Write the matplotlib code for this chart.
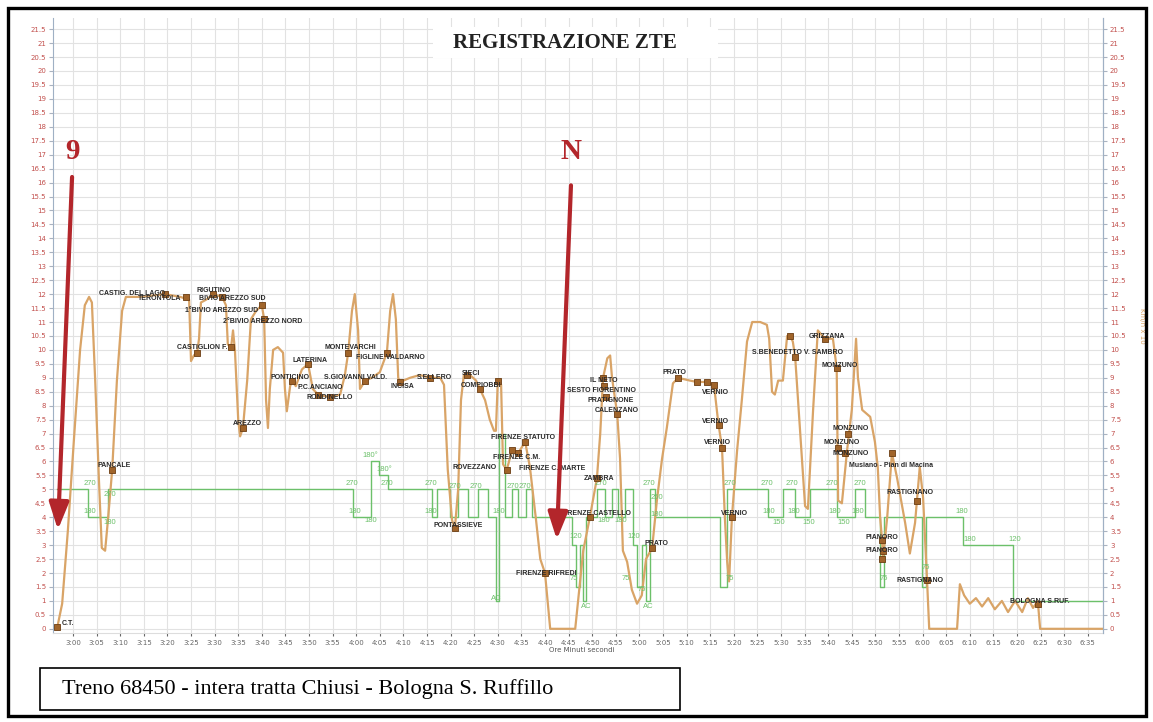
import matplotlib.pyplot as plt
from matplotlib.patches import Rectangle
from matplotlib.ticker import MultipleLocator, FuncFormatter

# time in minutes after midnight, speed in km/h / 10
SPEED_T = [176.6, 177.7, 178.9, 180.2, 181.5, 182.5, 183.4, 184.0, 184.7, 185.5,
           186.1, 186.8, 187.4, 188.3, 189.3, 190.4, 191.2, 194.2, 199.5, 202.7,
           204.6, 205.0, 205.6, 206.3, 206.7, 207.1, 208.2, 209.7, 211.6, 212.4,
           212.8, 213.5, 213.9, 214.3, 215.0, 215.4, 216.0, 216.9, 217.7, 218.8,
           220.0, 220.5, 220.9, 221.3, 221.7, 222.4, 223.4, 224.5, 224.9, 225.3,
           226.0, 226.4, 227.2, 228.5, 229.8, 230.8, 231.9, 234.4, 236.6, 237.6,
           238.3, 239.1, 239.7, 240.4, 240.8, 241.9, 243.3, 245.0, 246.5, 247.2,
           247.8, 248.4, 248.9, 249.3, 251.4, 253.5, 255.6, 257.8, 258.6, 259.4,
           260.3, 260.9, 261.6, 262.2, 262.8, 264.1, 265.4, 266.2, 267.3, 268.3,
           269.2, 269.6, 270.0, 270.7, 271.1, 271.9, 273.0, 274.3, 275.8, 276.8,
           278.1, 279.0, 280.0, 281.1, 286.4, 287.0, 288.1, 289.5, 291.0, 291.7,
           292.3, 293.2, 293.8, 294.2, 295.3, 295.9, 296.5, 297.4, 298.4, 299.5,
           300.5, 301.4, 302.7, 303.7, 304.8, 305.8, 307.1, 308.2, 310.7, 312.2,
           314.3, 315.8, 316.7, 317.5, 318.1, 318.6, 319.0, 319.6, 320.7, 321.7,
           322.8, 323.9, 325.6, 327.0, 327.5, 328.1, 328.7, 329.4, 330.4, 331.3,
           331.9, 332.5, 333.0, 334.0, 335.1, 335.7, 336.8, 337.8, 339.3, 341.0,
           341.8, 342.1, 342.9, 344.0, 345.0, 345.9, 346.3, 347.2, 348.9, 349.9,
           350.5, 351.0, 351.4, 351.6, 352.5, 353.5, 354.6, 356.3, 357.3, 358.4,
           359.4, 360.1, 360.9, 361.4, 367.3, 367.9, 368.8, 370.0, 371.3, 372.6,
           373.9, 375.3, 376.8, 378.1, 379.6, 381.1, 382.3, 383.4, 384.4, 384.9,
           398.0]
SPEED_V = [0.0, 0.9, 3.5, 6.8, 10.0, 11.6, 11.9, 11.7, 8.9, 5.3,
           2.9, 2.8, 3.9, 5.7, 8.9, 11.4, 11.9, 11.9, 12.0, 11.9,
           11.8, 9.6, 9.8, 9.9, 10.4, 11.7, 11.8, 12.0, 11.9, 11.6,
           10.2, 10.1, 10.7, 10.0, 7.5, 6.9, 7.2, 8.9, 11.1, 11.4,
           11.6, 11.1, 8.2, 7.2, 8.6, 10.0, 10.1, 9.9, 8.6, 7.8,
           8.7, 8.9, 8.7, 9.3, 9.5, 8.6, 8.4, 8.3, 8.4, 9.1,
           9.9, 11.4, 12.0, 10.7, 8.6, 8.9, 9.0, 9.2, 9.9, 11.4,
           12.0, 11.1, 9.0, 8.85, 9.0, 9.1, 9.0, 9.0, 8.75, 5.7,
           3.9, 3.6, 5.0, 8.2, 9.1, 9.1, 8.9, 8.6, 8.2, 7.5,
           7.1, 7.1, 8.9, 8.75, 5.9, 5.7, 6.4, 6.3, 6.7, 5.8,
           3.9, 2.5, 2.0, 0.0, 0.0, 1.0, 2.8, 4.0, 5.4, 7.0,
           9.0, 9.7, 9.8, 9.0, 7.7, 6.1, 2.8, 2.4, 1.4, 0.9,
           1.2, 2.5, 2.9, 4.6, 6.1, 7.2, 8.8, 9.0, 8.9, 8.85,
           8.85, 8.75, 7.4, 6.5, 4.0, 2.4, 1.7, 4.0, 6.4, 8.2,
           10.3, 11.0, 11.0, 10.9, 10.4, 8.5, 8.4, 8.9, 8.9, 10.5,
           10.5, 10.3, 9.75, 7.2, 4.4, 4.3, 7.85, 10.7, 10.4, 10.4,
           9.35, 4.6, 4.5, 6.4, 7.85, 10.4, 9.0, 7.85, 7.6, 6.7,
           5.8, 4.0, 3.2, 2.5, 4.0, 6.3, 5.4, 3.8, 2.7, 3.8,
           5.8, 4.7, 1.9, 0.0, 0.0, 1.6, 1.2, 0.9, 1.1, 0.8,
           1.1, 0.7, 1.0, 0.6, 1.0, 0.6, 1.1, 0.75, 1.0, 0.0,
           0.0]

# speed limit (step line)
LIMIT_T = [176.6, 183.2, 187.4, 239.3, 243.1, 244.8, 246.7, 256.1, 257.1, 259.9,
           261.6, 263.7, 265.8, 267.9, 269.6, 270.3, 271.5, 273.0, 274.3, 276.0,
           277.2, 285.7, 286.6, 287.4, 288.1, 288.7, 291.0, 292.7, 294.2, 295.5,
           297.0, 298.6, 299.5, 300.5, 301.4, 302.2, 303.3, 317.1, 318.6, 327.3,
           330.5, 333.0, 336.1, 341.9, 345.7, 347.8, 351.0, 351.8, 359.9, 360.7,
           368.6, 379.2, 398.0]
LIMIT_V = [5.0, 4.0, 5.0, 4.0, 6.0, 5.5, 5.0, 4.0, 5.0, 4.0,
           5.0, 4.0, 5.0, 4.0, 1.0, 7.0, 4.0, 5.0, 4.0, 5.0,
           4.0, 3.0, 1.5, 3.0, 1.0, 4.0, 5.0, 4.0, 5.0, 4.0,
           5.0, 3.0, 1.5, 3.0, 1.0, 5.0, 4.0, 1.5, 5.0, 4.0,
           5.0, 4.0, 5.0, 4.0, 5.0, 4.0, 1.5, 4.0, 1.5, 4.0,
           3.0, 1.0, 1.0]

LIMIT_LABEL_T = [183.6, 183.6, 187.8, 187.8, 239.0, 239.6, 243.1, 245.9, 246.5, 243.1,
                 255.8, 255.8, 260.9, 265.4, 269.6, 273.2, 275.8, 270.3,
                 286.6, 286.2, 288.7, 291.9, 292.4, 296.1, 298.8, 297.2, 301.8, 300.5,
                 302.1, 303.6, 303.6, 319.1, 319.1, 327.0, 332.3, 340.8, 346.7,
                 327.4, 329.6, 332.7, 335.9, 341.4, 343.3, 346.3, 351.8, 360.7,
                 368.2, 370.0, 379.6]
LIMIT_LABEL_V = [5.2, 4.2, 4.8, 3.8, 5.2, 4.2, 6.2, 5.7, 5.2, 3.9,
                 5.2, 4.2, 5.1, 5.1, 1.1, 5.1, 5.1, 4.2,
                 3.3, 1.8, 0.8, 5.2, 3.9, 3.9, 3.3, 1.8, 0.8, 1.4,
                 5.2, 4.7, 4.1, 1.8, 5.2, 5.2, 5.2, 5.2, 5.2,
                 4.2, 3.8, 4.2, 3.8, 4.2, 3.8, 4.2, 1.8, 2.2,
                 4.2, 3.2, 3.2]
LIMIT_LABELS = ["270", "180", "270", "180", "270", "180", "180°", "180°", "270", "180",
                "270", "180", "270", "270", "AC", "270", "270", "180",
                "120", "75", "AC", "270", "180", "180", "120", "75", "AC", "75",
                "270", "250", "180", "75", "270", "270", "270", "270", "270",
                "180", "150", "180", "150", "180", "150", "180", "75", "75",
                "180", "180", "120"]

STATION_T = [176.6, 188.3, 199.5, 203.9, 211.6, 209.7, 220.0, 220.5, 206.3, 213.5,
             216.0, 226.4, 229.8, 231.9, 234.4, 238.3, 241.9, 246.5, 249.3, 255.6,
             260.9, 263.5, 266.2, 270.0, 275.8, 274.3, 271.9, 273.0, 280.0, 289.5,
             291.0, 292.3, 292.6, 293.0, 295.3, 302.7, 308.2, 312.2, 314.3, 315.8,
             316.9, 317.5, 319.6, 331.9, 333.0, 339.3, 341.8, 344.2, 342.1, 343.6,
             353.5, 358.9, 351.4, 351.6, 351.5, 360.9, 384.4]
STATION_V = [0.05, 5.7, 12.0, 11.9, 11.9, 12.0, 11.6, 11.1, 9.9, 10.1,
             7.2, 8.9, 9.5, 8.4, 8.3, 9.9, 8.9, 9.9, 8.85, 9.0,
             3.6, 9.1, 8.6, 8.9, 6.7, 6.3, 5.7, 6.4, 2.0, 4.0,
             5.4, 9.0, 8.7, 8.3, 7.7, 2.9, 9.0, 8.85, 8.85, 8.75,
             7.3, 6.5, 4.0, 10.5, 9.75, 10.4, 9.35, 7.0, 6.5, 6.3,
             6.3, 4.6, 3.2, 2.8, 2.5, 1.75, 0.9]
STATION_NAMES = ["C.T.", "PANCALE", "CASTIG. DEL LAGO", "TERONTOLA", "BIVIO AREZZO SUD",
                 "RIGUTINO", "1°BIVIO AREZZO SUD", "2°BIVIO AREZZO NORD", "CASTIGLION F.", "",
                 "AREZZO", "PONTICINO", "LATERINA", "P.C.ANCIANO", "RONDINELLO",
                 "MONTEVARCHI", "S.GIOVANNI VALD.", "FIGLINE VALDARNO", "INCISA", "S.ELLERO",
                 "PONTASSIEVE", "SIECI", "COMPIOBBI", "", "FIRENZE STATUTO",
                 "FIRENZE C.M.", "ROVEZZANO", "FIRENZE C. MARTE", "FIRENZE RIFREDI", "FIRENZE CASTELLO",
                 "ZAMBRA", "IL NETO", "SESTO FIORENTINO", "PRATIGNONE", "CALENZANO",
                 "PRATO", "PRATO", "", "", "VERNIO",
                 "VERNIO", "VERNIO", "VERNIO", "", "S.BENEDETTO V. SAMBRO",
                 "GRIZZANA", "MONZUNO", "MONZUNO", "MONZUNO", "MONZUNO",
                 "Musiano - Pian di Macina", "RASTIGNANO", "PIANORO", "PIANORO", "",
                 "RASTIGNANO", "BOLOGNA S.RUF."]
# label offsets in pixels (dx right, dy up) from the marker
LABEL_DX = [5, 2, -33, -26, 10, 0, -40, -2, 5, 0,
            4, -2, 2, 2, 0, 2, -10, 3, 2, 5,
            3, 4, 1, 0, -2, -1, -32, 40, 1, 6,
            2, 1, -3, 4, 0, 4, -4, 0, 0, 1,
            -4, -5, 3, 0, 2, 2, 3, 3, 4, 5,
            -1, -7, 0, -1, 0, -7, 2]
LABEL_DY = [4, 4, 1, -2, -2, 4, -5, -2, 5, 0,
            4, 3, 3, 7, 0, 5, 3, -5, -5, 0,
            3, 2, 3, 0, 4, -4, 2, -18, 0, 4,
            0, -3, -4, -3, 4, 4, 5, 0, 0, -8,
            4, 5, 4, 0, 4, 2, 3, 5, 5, 0,
            -12, 8, 2, 0, 0, 0, 2]

TICK_MIN = list(range(180, 396, 5))


def clock(m, pos=None):
    return "{}:{:02d}".format(int(m) // 60, int(m) % 60)


W, H = 1153, 722
fig = plt.figure(figsize=(W / 100, H / 100), dpi=100)
fig.patch.set_facecolor("white")
ax = fig.add_axes([53 / W, (H - 633) / H, 1050 / W, 615 / H])

orange = "#d9a467"
green = "#6cc06a"
red_tick = "#c2504d"

ax.plot(SPEED_T, SPEED_V, color=orange, lw=1.6, zorder=3)
ax.plot(LIMIT_T, LIMIT_V, color=green, lw=1.0, drawstyle="steps-post", zorder=2)

for t, v, s in zip(LIMIT_LABEL_T, LIMIT_LABEL_V, LIMIT_LABELS):
    ax.text(t, v, s, color=green, fontsize=5.5, ha="center", va="center",
            family="Liberation Sans", zorder=4)

ax.scatter(STATION_T, STATION_V, marker="s", s=14, color="#a0642a",
           edgecolors="#6b3d12", linewidths=0.6, zorder=5)
for t, v, name, dx, dy in zip(STATION_T, STATION_V, STATION_NAMES, LABEL_DX, LABEL_DY):
    if not name:
        continue
    ha = "left" if name == "C.T." else "center"
    ax.annotate(name, (t, v), xytext=(dx, dy), textcoords="offset pixels",
                fontsize=5, fontweight="bold", color="#2a2a2a", ha=ha, va="center",
                family="Liberation Sans", zorder=6)

# red arrows
arrow_red = "#b3262b"
for tail, tip, lab in [((179.8, 16.2), (176.8, 3.55), "9"),
                       ((285.5, 15.9), (282.5, 3.2), "N")]:
    ax.annotate("", xy=tip, xytext=tail,
                arrowprops=dict(arrowstyle="-|>,head_length=0.55,head_width=0.2",
                                color=arrow_red, lw=3.0, mutation_scale=30,
                                shrinkA=0, shrinkB=0), zorder=7)
    ax.text(tail[0], 17.1, lab, color=arrow_red, fontsize=21, fontweight="bold",
            family="Liberation Serif", ha="center", va="center", zorder=7)

ax.set_xlim(175.76, 398.22)
ax.set_ylim(-0.15, 21.9)
ax.set_xticks(TICK_MIN)
ax.xaxis.set_major_formatter(FuncFormatter(clock))
ax.yaxis.set_major_locator(MultipleLocator(0.5))
ax.yaxis.set_major_formatter(FuncFormatter(lambda y, p: "{:g}".format(y)))
ax.grid(True, color="#e2e2e2", lw=0.8)
ax.set_axisbelow(True)
ax.tick_params(axis="x", labelsize=5, colors="#666666", length=2, pad=3)
ax.tick_params(axis="y", labelsize=5, colors="#aab3c0", labelcolor=red_tick, length=3, pad=2)
ax.spines["top"].set_visible(False)
ax.spines["left"].set_color("#9fb0c4")
ax.spines["right"].set_color("#9fb0c4")
ax.spines["bottom"].set_color("#dddddd")
ax.set_xlabel("Ore Minuti secondi", fontsize=5, color="#555555", labelpad=2)
ax.xaxis.set_label_coords(0.504, -0.022)

ax2 = ax.twinx()
ax2.set_ylim(ax.get_ylim())
ax2.yaxis.set_major_locator(MultipleLocator(0.5))
ax2.yaxis.set_major_formatter(FuncFormatter(lambda y, p: "{:g}".format(y)))
ax2.tick_params(axis="y", labelsize=5, colors="#aab3c0", labelcolor=red_tick, length=3, pad=2)
for s in ["top", "left", "bottom"]:
    ax2.spines[s].set_visible(False)
ax2.spines["right"].set_color("#9fb0c4")
ax2.set_ylabel("Km/h x 10", fontsize=5, color=orange, rotation=270, labelpad=14)

# title with white box
fig.add_artist(Rectangle((433 / W, 1 - 58 / H), 285 / W, 31 / H, transform=fig.transFigure,
                         facecolor="white", edgecolor="none", zorder=8))
fig.text(565 / W, 1 - 43 / H, "REGISTRAZIONE ZTE", fontsize=15, fontweight="bold",
         family="Liberation Serif", color="#222222", ha="center", va="center", zorder=9)

# caption box
fig.add_artist(Rectangle((40 / W, 1 - 710 / H), 640 / W, 42 / H, transform=fig.transFigure,
                         facecolor="white", edgecolor="black", lw=1.2, zorder=8))
fig.text(62 / W, 1 - 689 / H, "Treno 68450 - intera tratta Chiusi - Bologna S. Ruffillo",
         fontsize=16, family="Liberation Serif", color="black", ha="left", va="center", zorder=9)

# outer frame
fig.add_artist(Rectangle((8 / W, 1 - 716 / H), 1138 / W, 708 / H, transform=fig.transFigure,
                         fill=False, edgecolor="black", lw=2.4, zorder=10))

fig.savefig("out.png", dpi=100)
